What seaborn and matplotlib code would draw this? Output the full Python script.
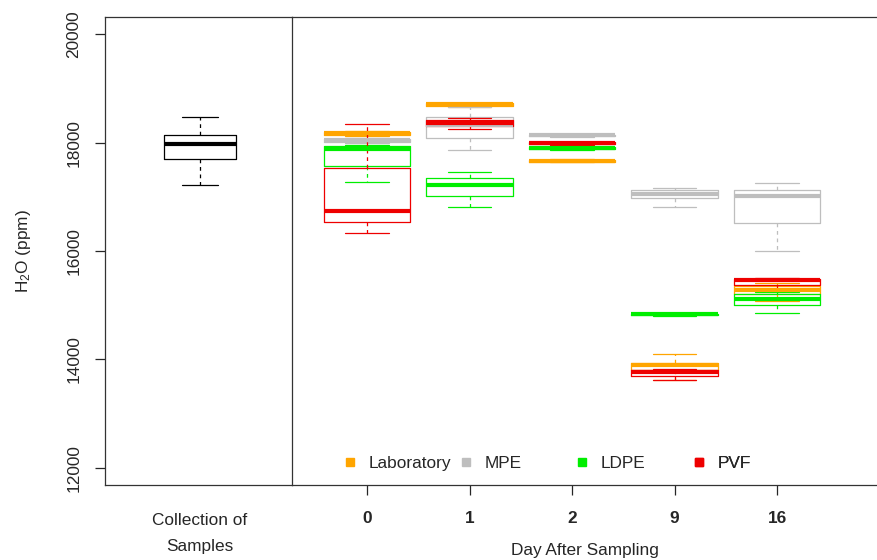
import numpy as np
import pandas as pd
import matplotlib
matplotlib.use("Agg")
import matplotlib.pyplot as plt
from matplotlib.lines import Line2D
import seaborn as sns

# categories
days = ["0", "1", "2", "9", "16"]
materials = ["Laboratory", "MPE", "LDPE", "PVF"]
colors = ["#FFA500", "#BEBEBE", "#00EE00", "#EE0000"]
collection_label = "Collection of\nSamples"

# five-number summaries (min, Q1, median, Q3, max), ppm
collection = [17220, 17690, 17980, 18140, 18470]
laboratory = [
    [18130, 18140, 18180, 18200, 18210],
    [18660, 18680, 18710, 18730, 18740],
    [17640, 17650, 17670, 17680, 17690],
    [13620, 13800, 13890, 13930, 14090],
    [15070, 15200, 15280, 15350, 15400],
]
mpe = [
    [17990, 18010, 18040, 18070, 18080],
    [17860, 18090, 18330, 18480, 18650],
    [18110, 18120, 18140, 18150, 18160],
    [16810, 16980, 17050, 17130, 17160],
    [16000, 16520, 17020, 17130, 17250],
]
ldpe = [
    [17270, 17560, 17880, 17930, 17950],
    [16820, 17010, 17210, 17350, 17460],
    [17870, 17880, 17900, 17920, 17930],
    [14800, 14810, 14830, 14840, 14850],
    [14850, 15000, 15120, 15200, 15250],
]
pvf = [
    [16330, 16540, 16730, 17530, 18350],
    [18250, 18300, 18360, 18420, 18450],
    [17960, 17980, 17995, 18010, 18020],
    [13620, 13690, 13770, 13800, 13830],
    [15300, 15380, 15460, 15480, 15500],
]
yticks = [12000, 14000, 16000, 18000, 20000]

rows = []
for mat, series in zip(materials, [laboratory, mpe, ldpe, pvf]):
    for day, vals in zip(days, series):
        for v in vals:
            rows.append((day, mat, v))
df = pd.DataFrame(rows, columns=["day", "material", "h2o"])
df_col = pd.DataFrame({"group": [collection_label] * len(collection), "h2o": collection})

sns.set_style("ticks")
plt.rcParams["font.family"] = ["Liberation Sans", "DejaVu Sans"]
plt.rcParams["mathtext.fontset"] = "custom"
plt.rcParams["mathtext.rm"] = "Liberation Sans"
plt.rcParams["mathtext.default"] = "regular"
fs = 12.4

W, H = 878, 560
fig = plt.figure(figsize=(W / 100, H / 100), dpi=100)
bottom = 1 - 485 / H
height = (485 - 17) / H
ax1 = fig.add_axes([105 / W, bottom, (292 - 105) / W, height])
ax2 = fig.add_axes([292 / W, bottom, (W - 292) / W, height], sharey=ax1)

box_kws = dict(fill=False, whis=(0, 100), linewidth=0.9, saturation=1,
               medianprops=dict(linewidth=3, solid_capstyle="butt"),
               whiskerprops=dict(linestyle=(0, (3, 3))))

sns.boxplot(data=df_col, x="group", y="h2o", color="black", width=0.385, ax=ax1, **box_kws)
sns.boxplot(data=df, x="day", y="h2o", hue="material", order=days, hue_order=materials,
            palette=colors, dodge=False, width=0.845, legend=False, ax=ax2, **box_kws)

ax1.set_xlim(-0.508, 0.492)
ax2.set_xlim(-0.732, 4.985)
ax1.set_ylim(11680, 20320)
ax1.set_yticks(yticks)
ax1.set_yticklabels([str(t) for t in yticks], rotation=90, va="center", fontsize=fs)
ax1.tick_params(axis="y", length=7, width=0.9, pad=10)
ax1.tick_params(axis="x", length=0, pad=20, labelsize=fs)
for lab in ax1.get_xticklabels():
    lab.set_linespacing(1.9)
ax1.set_xlabel("")
ax1.set_ylabel("H$_2$O (ppm)", fontsize=fs, labelpad=24)

ax2.tick_params(axis="y", left=False, labelleft=False)
ax2.tick_params(axis="x", length=7, width=0.9, pad=12, labelsize=fs)
for lab in ax2.get_xticklabels():
    lab.set_fontweight("bold")
ax2.set_ylabel("")
ax2.set_xlabel("Day After Sampling", fontsize=fs, labelpad=12)

for name, sp in ax1.spines.items():
    sp.set_visible(name != "right")
    sp.set_linewidth(0.9)
    sp.set_color("#333333")
for name, sp in ax2.spines.items():
    sp.set_visible(name != "right")
    sp.set_linewidth(0.9)
    sp.set_color("#333333")

# legend: evenly spaced entries along the bottom of the right panel
leg_px = [345, 461, 577, 694]
leg_y = (H - 463 - 75) / (485 - 17)
for px, mat, c in zip(leg_px, materials, colors):
    handle = Line2D([], [], linestyle="none", marker="s", markersize=6,
                    markerfacecolor=c, markeredgecolor=c)
    leg = ax2.legend(handles=[handle], labels=[mat], loc="center left",
                     bbox_to_anchor=((px - 292) / (W - 292), leg_y), frameon=False,
                     handlelength=0.6, handletextpad=0.75, borderpad=0,
                     borderaxespad=0, fontsize=fs)
    ax2.add_artist(leg)

fig.savefig("out.png", dpi=100)
